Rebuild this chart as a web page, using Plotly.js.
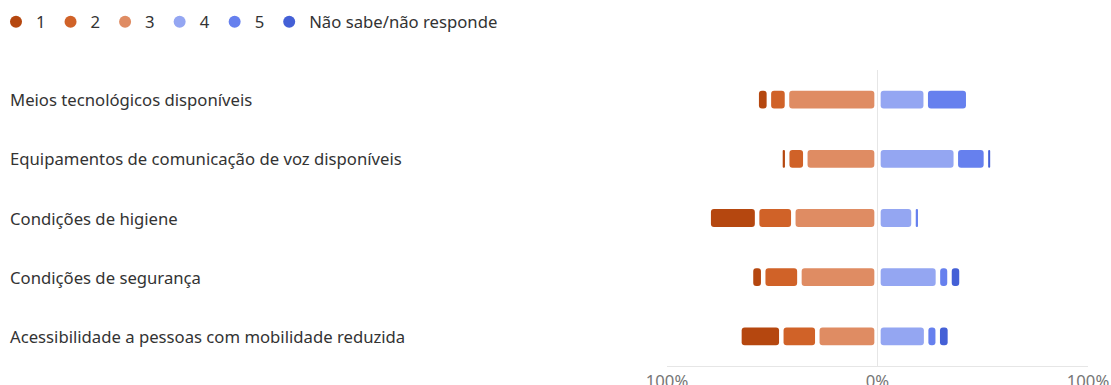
<!DOCTYPE html>
<html>
<head>
<meta charset="utf-8">
<script src="https://cdn.plot.ly/plotly-3.0.1.min.js"></script>
<style>
  html, body { margin: 0; padding: 0; background: #fff; }
  #chart { width: 1111px; height: 385px; }
</style>
</head>
<body>
<div id="chart"></div>
<script>
// ---- Data (percent of responses) ----
const categories = [
  "Meios tecnológicos disponíveis",
  "Equipamentos de comunicação de voz disponíveis",
  "Condições de higiene",
  "Condições de segurança",
  "Acessibilidade a pessoas com mobilidade reduzida"
];
const seriesNames = ["1", "2", "3", "4", "5", "Não sabe/não responde"];
const s1 = [5.8, 3.2, 23.0, 5.8, 19.9];
const s2 = [8.6, 8.6, 17.2, 17.2, 17.1];
const s3 = [43.0, 34.3, 40.0, 37.1, 28.6];
const s4 = [22.9, 37.2, 17.1, 28.7, 23.1];
const s5 = [20.2, 14.3, 3.2, 5.5, 5.5];
const sNS = [0, 3.1, 0, 5.7, 5.8];
const tickVals = [-100, 0, 100];
const tickText = ["100%", "0%", "100%"];

// ---- Styles ----
const colors = ["#B5470F", "#D06228", "#DF8C63", "#94A6F2", "#6680EE", "#4460D6"];
const GAP = 1.07;      // half gap between segments (in % units)
const ZGAP = 1.5;      // half gap at the zero line
const FONT = "Noto Sans, Open Sans, sans-serif";
const FSIZE = 16.7;
const W = 1111, H = 385;
const M = { l: 667, r: 23, t: 70, b: 19 };
const plotW = W - M.l - M.r, plotH = H - M.t - M.b;

const negSeries = [s3, s2, s1];            // from zero outward (left)
const negColors = [colors[2], colors[1], colors[0]];
const negNames = [seriesNames[2], seriesNames[1], seriesNames[0]];
const posSeries = [s4, s5, sNS];           // from zero outward (right)
const posColors = [colors[3], colors[4], colors[5]];
const posNames = [seriesNames[3], seriesNames[4], seriesNames[5]];

const traces = [];

function addSide(seriesList, cols, names, sign) {
  const start = categories.map(() => 0);
  seriesList.forEach((vals, k) => {
    const base = [], x = [], y = [], cd = [];
    vals.forEach((v, i) => {
      if (v > 0) {
        const innerGap = start[i] === 0 ? ZGAP : GAP;
        const len = Math.max(v - innerGap - GAP, 0.3);
        base.push(sign * (start[i] + innerGap));
        x.push(sign * len);
        y.push(categories[i]);
        cd.push(v);
      }
      start[i] += v;
    });
    traces.push({
      type: "bar",
      orientation: "h",
      name: names[k],
      base: base,
      x: x,
      y: y,
      customdata: cd,
      marker: { color: cols[k], cornerradius: 3 },
      showlegend: false,
      hovertemplate: "%{y}: %{customdata}%<extra>" + names[k] + "</extra>"
    });
  });
}
addSide(negSeries, negColors, negNames, -1);
addSide(posSeries, posColors, posNames, 1);

// legend entries (circle markers)
seriesNames.forEach((n, k) => {
  traces.push({
    type: "scatter",
    mode: "markers",
    name: n,
    x: [null],
    y: [null],
    marker: { color: colors[k], size: 12, symbol: "circle" },
    showlegend: true,
    hoverinfo: "skip"
  });
});

const annotations = categories.map(c => ({
  xref: "paper", yref: "y",
  x: 0, y: c,
  xanchor: "left", yanchor: "middle",
  xshift: -659,
  text: c,
  showarrow: false,
  font: { family: FONT, size: FSIZE, color: "#333333" }
}));

const layout = {
  width: W,
  height: H,
  margin: { l: M.l, r: M.r, t: M.t, b: M.b, pad: 0, autoexpand: false },
  paper_bgcolor: "#ffffff",
  plot_bgcolor: "#ffffff",
  font: { family: FONT, size: FSIZE, color: "#333333" },
  barmode: "overlay",
  bargap: 0.7,
  showlegend: true,
  legend: {
    orientation: "h",
    xref: "paper", yref: "paper",
    x: (-4 - M.l) / plotW,
    y: 1 + (M.t - 22) / plotH,
    xanchor: "left", yanchor: "middle",
    font: { family: FONT, size: FSIZE, color: "#333333" },
    itemclick: false,
    bgcolor: "rgba(0,0,0,0)"
  },
  xaxis: {
    range: [-100, 100],
    tickvals: tickVals,
    ticktext: tickText,
    showgrid: true,
    gridcolor: "#e6e6e6",
    gridwidth: 1,
    zeroline: false,
    showline: true,
    linecolor: "#e6e6e6",
    ticks: "",
    tickfont: { family: FONT, size: FSIZE, color: "#777777" },
    fixedrange: true
  },
  yaxis: {
    type: "category",
    categoryorder: "array",
    categoryarray: categories,
    autorange: "reversed",
    showticklabels: false,
    showgrid: false,
    zeroline: false,
    ticks: "",
    fixedrange: true
  },
  annotations: annotations
};

Plotly.newPlot("chart", traces, layout, { displayModeBar: false, staticPlot: true });
</script>
</body>
</html>
